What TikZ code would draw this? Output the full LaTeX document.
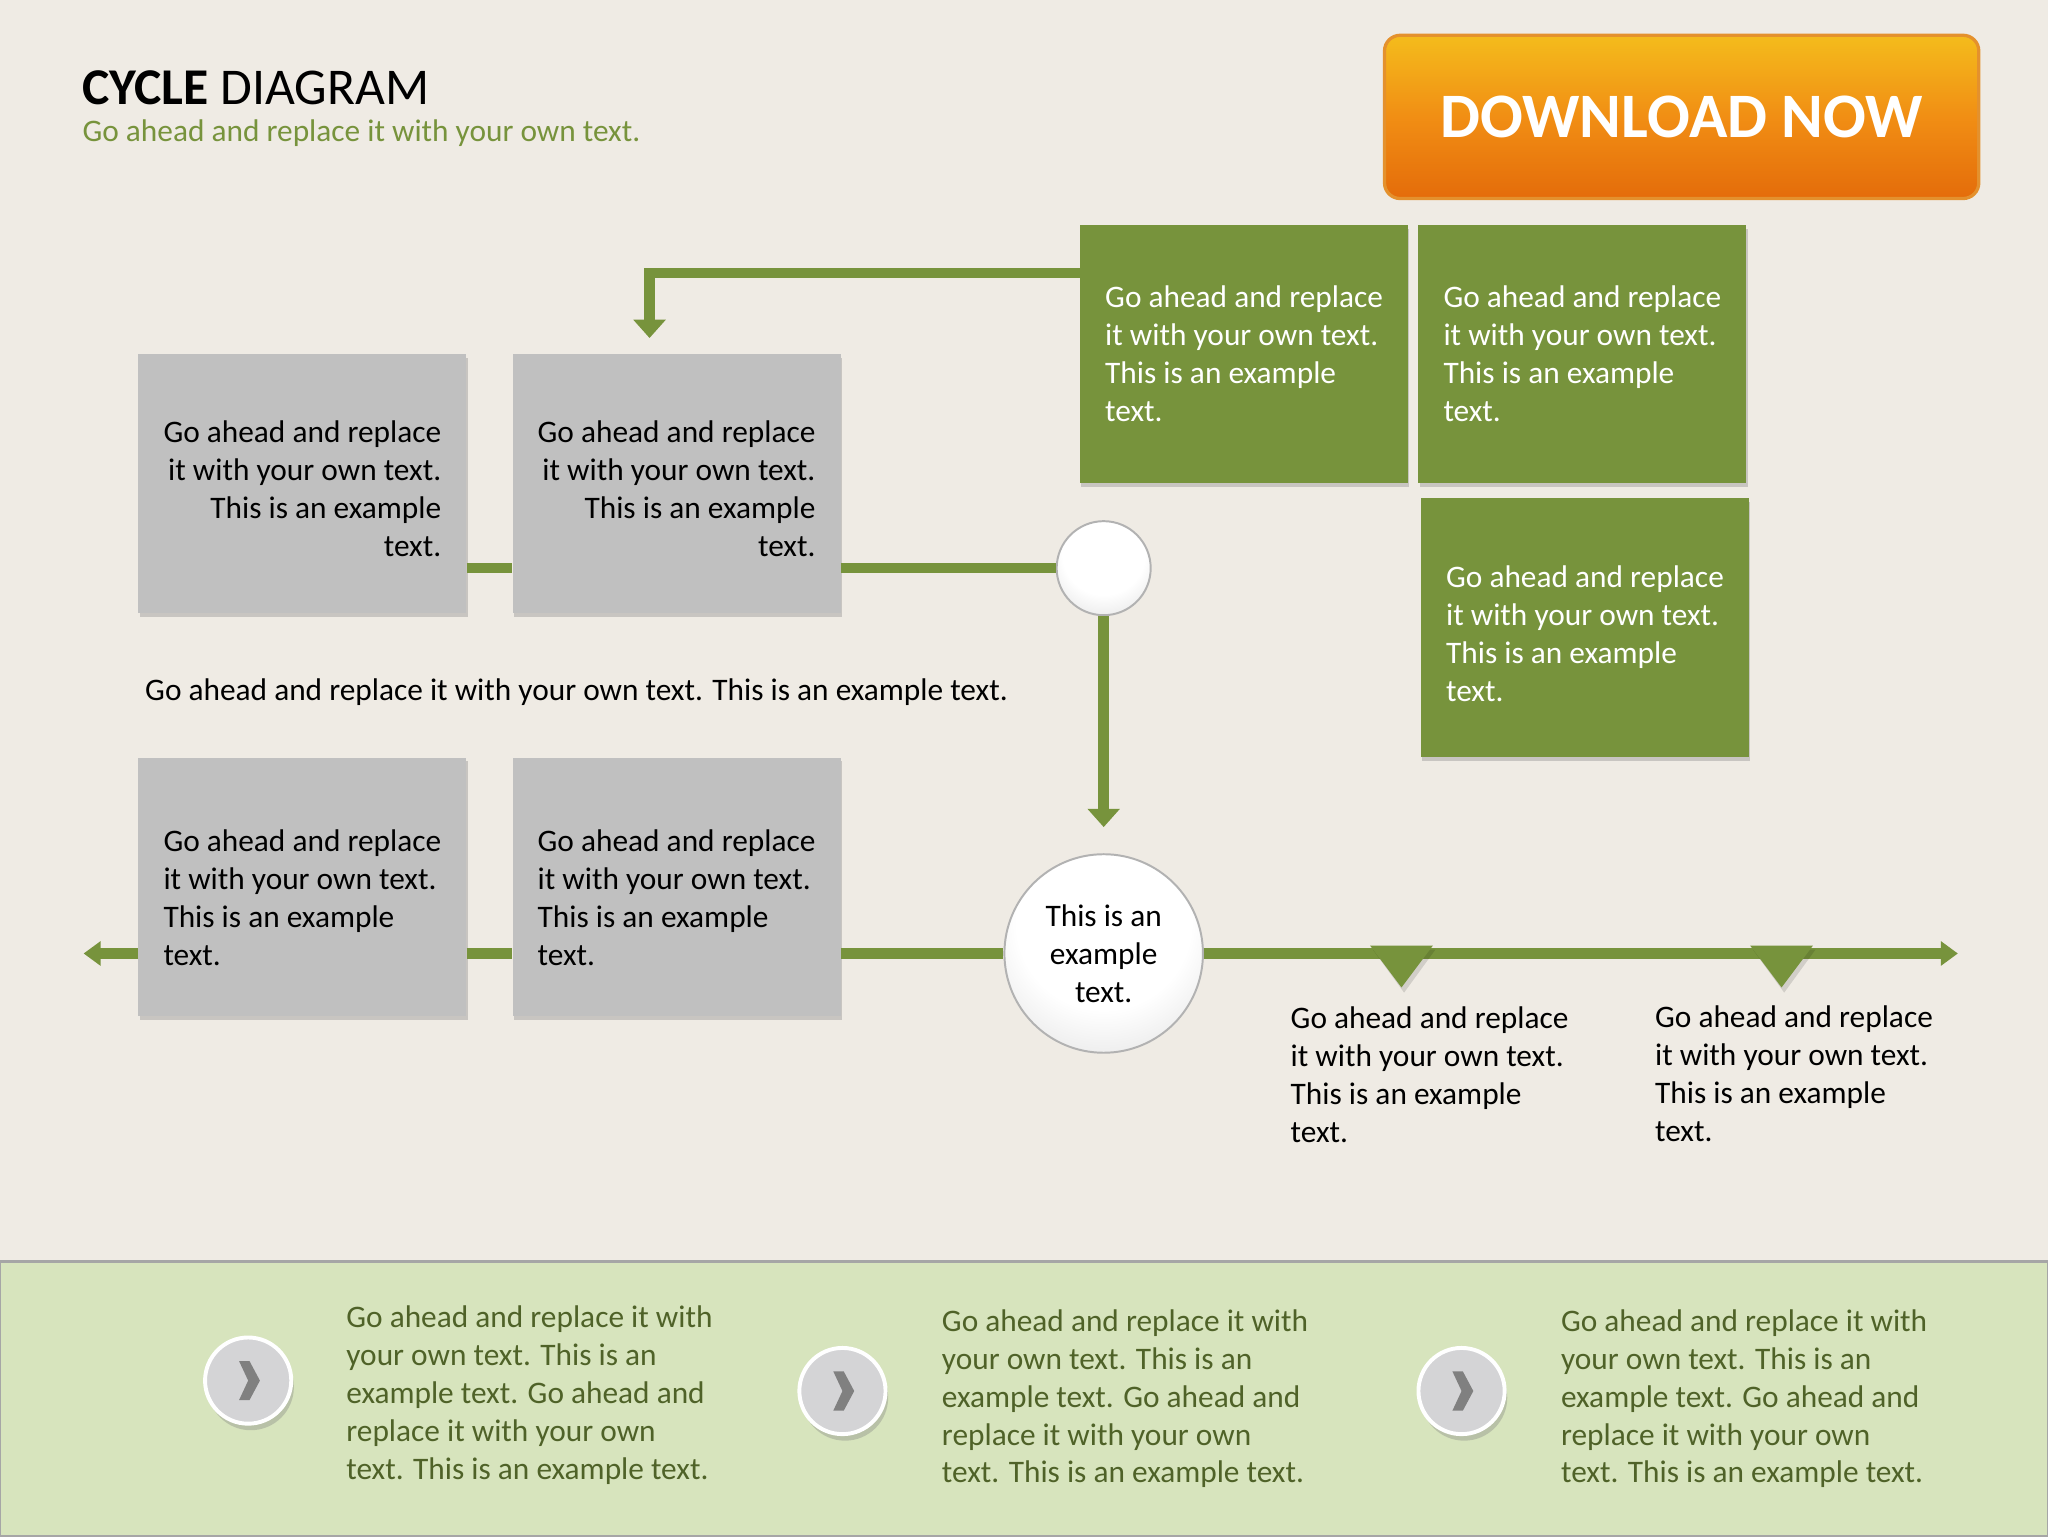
\documentclass[tikz,border=0pt]{standalone}
\usepackage{fontspec}
\setmainfont{Carlito}
\usetikzlibrary{arrows.meta,shadows}
\definecolor{bgc}{RGB}{239,235,228}
\definecolor{olive}{RGB}{119,147,60}
\definecolor{boxgray}{RGB}{192,192,192}
\definecolor{panel}{RGB}{215,228,189}
\definecolor{paneltext}{RGB}{79,98,40}
\definecolor{btntop}{RGB}{244,188,28}
\definecolor{btnmid}{RGB}{241,142,20}
\definecolor{btnbot}{RGB}{228,108,10}
\definecolor{btnedge}{RGB}{228,145,45}
\definecolor{chev}{RGB}{128,128,128}
\definecolor{btngray}{RGB}{212,212,214}
\pgfdeclareradialshading{pearl}{\pgfpoint{0bp}{10bp}}{color(0bp)=(white); color(22bp)=(white); color(34bp)=(black!8); color(44bp)=(black!20); color(50bp)=(black!30); color(100bp)=(black!30)}
\newcommand{\lift}[1]{\rule{0pt}{#1pt}}
\tikzset{
  txt/.style={font=\fontsize{24}{29}\selectfont, inner sep=0pt},
  gbox/.style={txt, rectangle, fill=boxgray, minimum width=251pt, minimum height=198pt, text=black,
    drop shadow={shadow xshift=1pt, shadow yshift=-3pt, opacity=0.35}},
  obox/.style={txt, rectangle, fill=olive, minimum width=251pt, minimum height=198pt, text=white, align=left,
    drop shadow={shadow xshift=1pt, shadow yshift=-3pt, opacity=0.35}},
  sphere/.style={circle, draw=black!30, line width=1.5pt, shading=pearl, inner sep=0pt},
  conn/.style={draw=olive, line width=8pt},
  tipH/.style={-{Triangle[width=18pt,length=13pt]}},
  tipV/.style={-{Triangle[width=24pt,length=14pt]}},
  ltext/.style={txt, anchor=west, align=left, text=black},
  ptext/.style={txt, anchor=west, align=left, text=paneltext},
  pbtn/.style={circle, fill=btngray, draw=white, line width=3pt, minimum size=66pt,
    drop shadow={shadow xshift=2pt, shadow yshift=-5pt, opacity=0.35}},
  dlbtn/.style={rectangle, rounded corners=12pt, minimum width=455pt, minimum height=125pt,
    top color=btntop, bottom color=btnbot, middle color=btnmid, draw=btnedge, line width=2.5pt,
    text=white, font=\bfseries\fontsize{48.5}{52}\selectfont}
}
\begin{document}
\begin{tikzpicture}[x=1pt,y=-1pt]
\useasboundingbox (0,0) rectangle (1568,1176);
\fill[bgc] (0,0) rectangle (1568,1176);

% title
\node[anchor=base west, inner sep=0pt, font=\fontsize{39.5}{44}\selectfont] (title) at (63,80) {\textbf{CYCLE} DIAGRAM};
\node[txt, anchor=base west, text=olive] (subtitle) at (63,108.5) {Go ahead and replace it with your own text.};

% download button
\node[dlbtn] (dl) at (1287.5,89.5) {DOWNLOAD NOW};

% boxes
\node[gbox, align=right] (b1) at (231.5,370) {\lift{25}Go ahead and replace\\it with your own text.\\This is an example\\text.};
\node[gbox, align=right] (b2) at (518,370) {\lift{25}Go ahead and replace\\it with your own text.\\This is an example\\text.};
\node[gbox, align=left] (b3) at (231.5,679) {\lift{33}Go ahead and replace\\it with your own text.\\This is an example\\text.};
\node[gbox, align=left] (b4) at (518,679) {\lift{33}Go ahead and replace\\it with your own text.\\This is an example\\text.};
\node[obox] (g1) at (952.5,271) {Go ahead and replace\\it with your own text.\\This is an example\\text.};
\node[obox] (g2) at (1211.5,271) {Go ahead and replace\\it with your own text.\\This is an example\\text.};
\node[obox] (g3) at (1213.5,480.5) {\lift{26}Go ahead and replace\\it with your own text.\\This is an example\\text.};

% spheres
\node[sphere, minimum size=72pt] (s1) at (845,435) {};
\node[sphere, minimum size=152pt, txt, align=center, text=black] (s2) at (845,730) {This is an\\example\\text.};

% connectors
\draw[conn, tipV] ([yshift=-37pt]g1.north west) -| ([xshift=105pt,yshift=12pt]b2.north west);
\draw[conn] ([yshift=-65pt]b1.east) -- ([yshift=-65pt]b2.west);
\draw[conn] ([yshift=-65pt]b2.east) -- (s1.west);
\draw[conn, tipV] (s1.south) -- ([yshift=20pt]s2.north);
\coordinate (lend) at (64,730);
\coordinate (rend) at (1499,730);
\draw[conn, tipH] ([yshift=-51pt]b3.west) -- (lend);
\draw[conn] ([yshift=-51pt]b3.east) -- ([yshift=-51pt]b4.west);
\draw[conn] ([yshift=-51pt]b4.east) -- (s2.west);
\draw[conn, tipH] (s2.east) -- (rend);

% markers on the line
\fill[black, opacity=0.12] (1051,727) -- (1099,727) -- (1075,760) -- cycle;
\fill[olive] (1049,724) -- (1097,724) -- (1073,756) -- cycle;
\fill[black, opacity=0.12] (1342,727) -- (1390,727) -- (1366,760) -- cycle;
\fill[olive] (1340,724) -- (1388,724) -- (1364,756) -- cycle;

% free texts
\node[txt, anchor=west] (note) at (111,530) {Go ahead and replace it with your own text. This is an example text.};
\node[ltext] (t1) at (988,823) {Go ahead and replace\\it with your own text.\\This is an example\\text.};
\node[ltext] (t2) at (1267,822) {Go ahead and replace\\it with your own text.\\This is an example\\text.};

% bottom panel
\fill[panel] (0,966) rectangle (1568,1176);
\draw[black!35, line width=2pt] (0,966) rectangle (1568,1176);

\node[pbtn] (c1) at (190,1057) {};
\node[pbtn] (c2) at (645,1065) {};
\node[pbtn] (c3) at (1119,1065) {};
\foreach \c in {c1,c2,c3}{
  \begin{scope}[shift={(\c.center)}]
    \fill[chev] (-7,-15) -- (1,-15) -- (9,0) -- (1,15) -- (-7,15) -- (0,0) -- cycle;
  \end{scope}
}

\node[ptext] (p1) at (265,1068) {Go ahead and replace it with\\your own text. This is an\\example text. Go ahead and\\replace it with your own\\text. This is an example text.};
\node[ptext] (p2) at (721,1071) {Go ahead and replace it with\\your own text. This is an\\example text. Go ahead and\\replace it with your own\\text. This is an example text.};
\node[ptext] (p3) at (1195,1071) {Go ahead and replace it with\\your own text. This is an\\example text. Go ahead and\\replace it with your own\\text. This is an example text.};
\end{tikzpicture}
\end{document}
